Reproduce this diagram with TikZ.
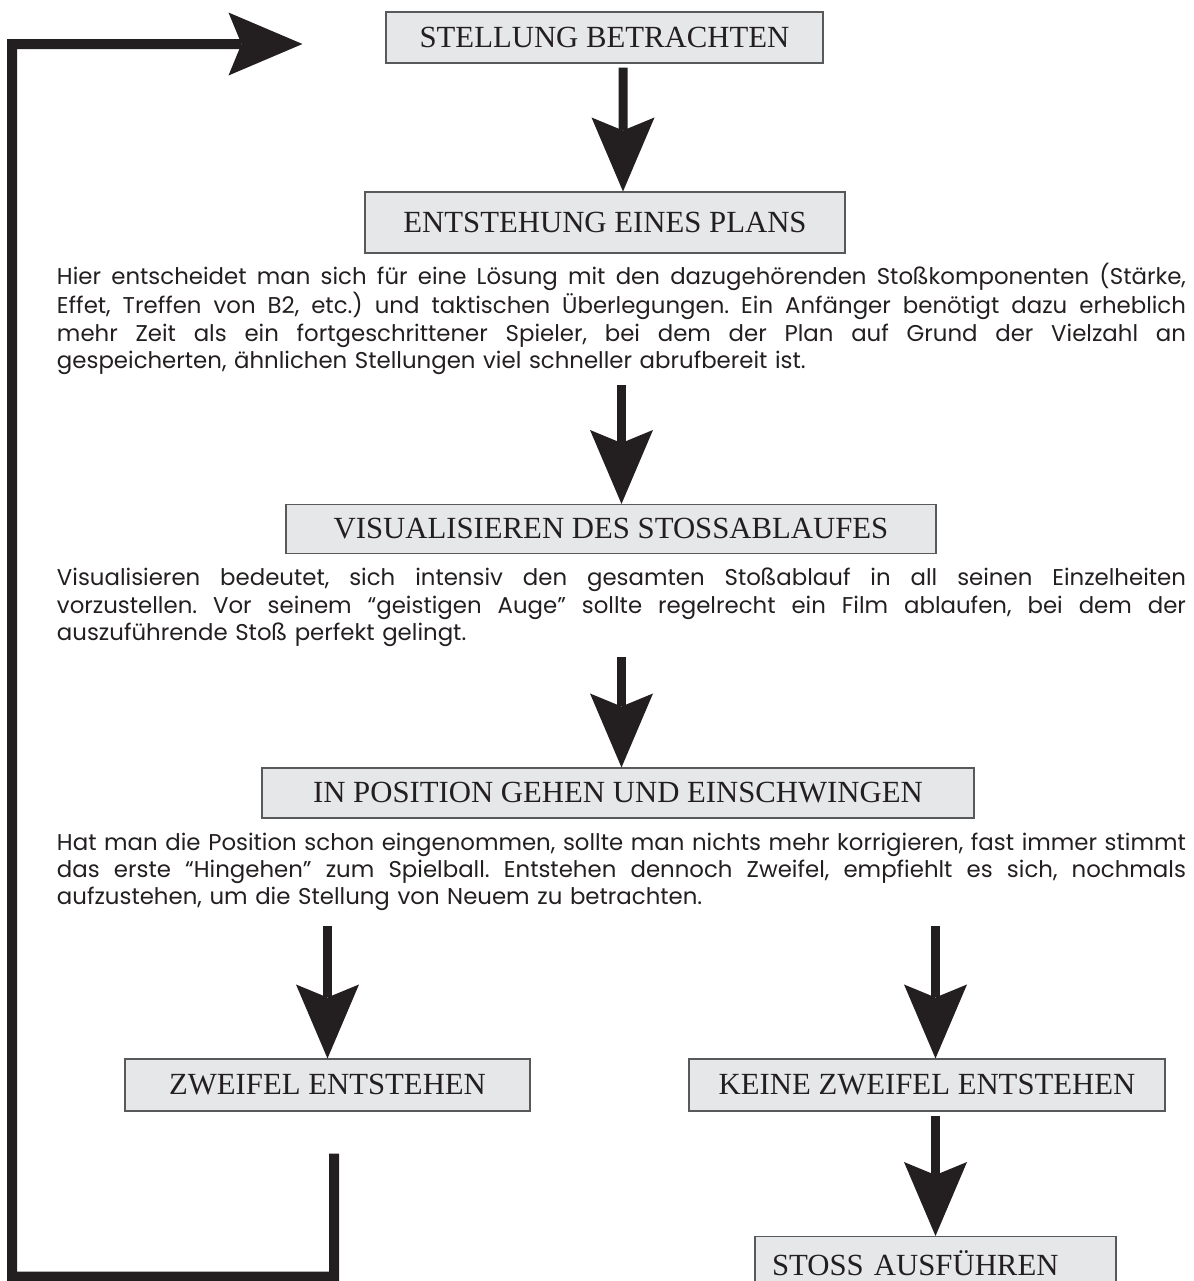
\documentclass[tikz,border=0pt]{standalone}
\usepackage{fontspec}
\setmainfont{Liberation Serif}
\newfontfamily\bodyfont{Poppins}
\usetikzlibrary{positioning, arrows.meta}
\definecolor{boxgray}{HTML}{E6E7E8}
\definecolor{framegray}{HTML}{58595B}
\definecolor{ink}{HTML}{231F20}
\frenchspacing
% one justified line of the notes
\newcommand{\fullline}[1]{{\spaceskip=0pt\relax\xspaceskip=0pt\relax\makebox[22.58cm][s]{#1}}}

\begin{document}
\begin{tikzpicture}[
    stage/.style={
      rectangle, draw=framegray, line width=0.6pt, fill=boxgray,
      minimum height=1.02cm, inner sep=0pt,
      font=\fontsize{17.5}{20}\selectfont, text=ink,
    },
    note/.style={
      text width=22.58cm, align=left, inner sep=0pt, anchor=north,
      font=\bodyfont\fontsize{13}{15.4}\selectfont, text=ink,
    },
    bigarrow/.style={draw=ink, line width=1.8mm,
      -{Stealth[length=14.8mm, width=12.6mm, inset=2.6mm, line width=0pt]}},
    loopback/.style={bigarrow, line width=2mm},
]
\useasboundingbox (0,0) rectangle (23.86,-25.62);

\node[stage, minimum width=8.74cm]                   (look)  at (12.09,-0.75)  {STELLUNG BETRACHTEN};
\node[stage, minimum width=9.6cm, minimum height=1.22cm] (plan) at (12.10,-4.45) {ENTSTEHUNG EINES PLANS};
\node[note] (plannote) at (12.43,-5.26) {\fullline{Hier entscheidet man sich für eine Lösung mit den dazugehörenden Stoßkomponenten (Stärke,}\\
  \fullline{Effet, Treffen von B2, etc.) und taktischen Überlegungen. Ein Anfänger benötigt dazu erheblich}\\
  \fullline{mehr Zeit als ein fortgeschrittener Spieler, bei dem der Plan auf Grund der Vielzahl an}\\
  gespeicherten, ähnlichen Stellungen viel schneller abrufbereit ist.};

\node[stage, minimum width=13cm, minimum height=0.98cm] (visual) at (12.22,-10.58) {VISUALISIEREN DES STOSSABLAUFES};
\node[note] (visualnote) at (12.43,-11.36) {\fullline{Visualisieren bedeutet, sich intensiv den gesamten Stoßablauf in all seinen Einzelheiten}\\
  \fullline{vorzustellen. Vor seinem “geistigen Auge” sollte regelrecht ein Film ablaufen, bei dem der}\\
  auszuführende Stoß perfekt gelingt.};

\node[stage, minimum width=14.24cm, minimum height=1cm] (stance) at (12.36,-15.86) {IN POSITION GEHEN UND EINSCHWINGEN};
\node[note] (stancenote) at (12.43,-16.66) {\fullline{Hat man die Position schon eingenommen, sollte man nichts mehr korrigieren, fast immer stimmt}\\
  \fullline{das erste “Hingehen” zum Spielball. Entstehen dennoch Zweifel, empfiehlt es sich, nochmals}\\
  aufzustehen, um die Stellung von Neuem zu betrachten.};

\node[stage, minimum width=8.1cm,  minimum height=1.04cm] (doubt)   at (6.55,-21.7)  {ZWEIFEL ENTSTEHEN};
\node[stage, minimum width=9.52cm, minimum height=1.04cm] (nodoubt) at (18.54,-21.7) {KEINE ZWEIFEL ENTSTEHEN};
\node[stage, anchor=north, text width=6.54cm, inner xsep=0.34cm, align=left,
      minimum height=1.08cm] (shoot) at (18.71,-24.72) {STOSS AUSFÜHREN};

% main chain
\draw[bigarrow] ([xshift=3.7mm,yshift=-0.8mm]look.south) -- ([xshift=3.6mm]plan.north);
\draw[bigarrow] ([yshift=-2mm]plannote.south) -- (plannote.south |- visual.north);
\draw[bigarrow] ([yshift=-2mm]visualnote.south) -- (visualnote.south |- stance.north);
\draw[bigarrow] ([yshift=-3mm]stancenote.south -| doubt.north) -- (doubt.north);
\draw[bigarrow] ([yshift=-3mm]stancenote.south -| shoot.north) -- (nodoubt.north -| shoot.north);
\draw[bigarrow] ([yshift=-0.8mm]nodoubt.south -| shoot.north) -- (shoot.north);

% back to the start
\coordinate (back)  at ([xshift=1.3mm,yshift=-8.4mm]doubt.south);
\coordinate (again) at ([xshift=-16.6mm,yshift=-1.3mm]look.west);
\draw[loopback] (back) -- ++(0,-2.46) -| (0.24,-0.88) -- (again);
\end{tikzpicture}
\end{document}
